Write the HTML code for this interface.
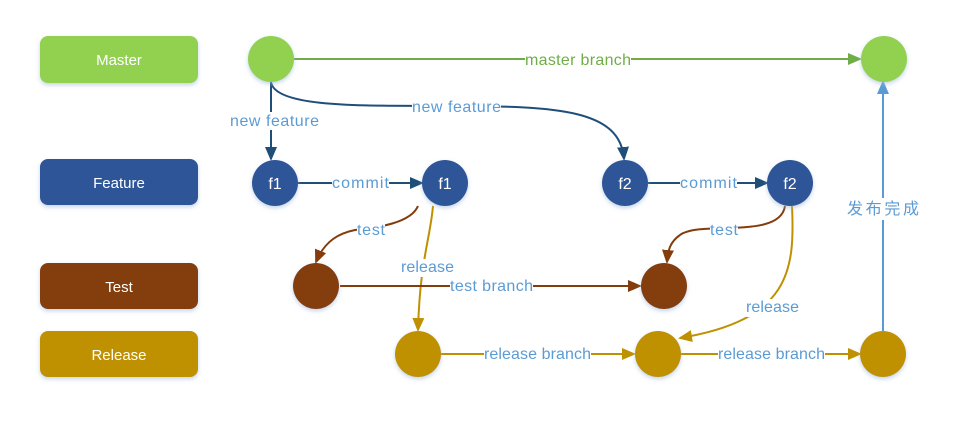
<!DOCTYPE html>
<html><head><meta charset="utf-8"><style>
body{margin:0;background:#fff;}
svg{display:block;font-family:"Liberation Sans","Noto Sans CJK SC",sans-serif;}
</style></head><body>
<svg width="954" height="434" viewBox="0 0 954 434">
<defs>
<filter id="sh" x="-30%" y="-30%" width="160%" height="160%"><feDropShadow dx="0" dy="2" stdDeviation="2" flood-color="#9bb7d8" flood-opacity="0.6"/></filter>
<marker id="ab" markerWidth="14" markerHeight="14" refX="12" refY="7" orient="auto" markerUnits="userSpaceOnUse"><path d="M0,1 L14,7 L0,13z" fill="#1f4e79"/></marker>
<marker id="ag" markerWidth="14" markerHeight="14" refX="12" refY="7" orient="auto" markerUnits="userSpaceOnUse"><path d="M0,1 L14,7 L0,13z" fill="#70ad47"/></marker>
<marker id="abr" markerWidth="14" markerHeight="14" refX="12" refY="7" orient="auto" markerUnits="userSpaceOnUse"><path d="M0,1 L14,7 L0,13z" fill="#843c0c"/></marker>
<marker id="ay" markerWidth="14" markerHeight="14" refX="12" refY="7" orient="auto" markerUnits="userSpaceOnUse"><path d="M0,1 L14,7 L0,13z" fill="#bf9000"/></marker>
<marker id="al" markerWidth="14" markerHeight="14" refX="12" refY="7" orient="auto" markerUnits="userSpaceOnUse"><path d="M0,1 L14,7 L0,13z" fill="#5b9bd5"/></marker>
</defs>
<g filter="url(#sh)">
<rect x="40" y="36" width="158" height="47" rx="8" fill="#92d050"/>
<rect x="40" y="159" width="158" height="46" rx="8" fill="#2f5597"/>
<rect x="40" y="263" width="158" height="46" rx="8" fill="#843c0c"/>
<rect x="40" y="331" width="158" height="46" rx="8" fill="#bf9000"/>
</g>
<g fill="#fff" font-size="15" text-anchor="middle">
<text x="119" y="65">Master</text><text x="119" y="188">Feature</text>
<text x="119" y="292">Test</text><text x="119" y="360">Release</text>
</g>
<g fill="none" stroke-width="2">
<path d="M294,59 L860,59" stroke="#70ad47" marker-end="url(#ag)"/>
<path d="M271,82 L271,159" stroke="#1f4e79" marker-end="url(#ab)"/>
<path d="M271,82 C275,110 380,105 450,106 C560,106 620,110 624,159" stroke="#1f4e79" marker-end="url(#ab)"/>
<path d="M298,183 L422,183" stroke="#1f4e79" marker-end="url(#ab)"/>
<path d="M648,183 L767,183" stroke="#1f4e79" marker-end="url(#ab)"/>
<path d="M418,206 C410,225 370,228 355,230 C340,233 325,240 316,262" stroke="#843c0c" marker-end="url(#abr)"/>
<path d="M433,206 C430,240 420,260 418,330" stroke="#bf9000" marker-end="url(#ay)"/>
<path d="M340,286 L640,286" stroke="#843c0c" marker-end="url(#abr)"/>
<path d="M785,206 C780,240 700,220 680,235 C670,242 668,250 667,262" stroke="#843c0c" marker-end="url(#abr)"/>
<path d="M792,206 C795,270 790,320 680,338" stroke="#bf9000" marker-end="url(#ay)"/>
<path d="M441,354 L634,354" stroke="#bf9000" marker-end="url(#ay)"/>
<path d="M681,354 L860,354" stroke="#bf9000" marker-end="url(#ay)"/>
<path d="M883,331 L883,82" stroke="#5b9bd5" marker-end="url(#al)"/>
</g>
<g filter="url(#sh)">
<circle cx="271" cy="59" r="23" fill="#92d050"/>
<circle cx="884" cy="59" r="23" fill="#92d050"/>
<circle cx="275" cy="183" r="23" fill="#2f5597"/>
<circle cx="445" cy="183" r="23" fill="#2f5597"/>
<circle cx="625" cy="183" r="23" fill="#2f5597"/>
<circle cx="790" cy="183" r="23" fill="#2f5597"/>
<circle cx="316" cy="286" r="23" fill="#843c0c"/>
<circle cx="664" cy="286" r="23" fill="#843c0c"/>
<circle cx="418" cy="354" r="23" fill="#bf9000"/>
<circle cx="658" cy="354" r="23" fill="#bf9000"/>
<circle cx="883" cy="354" r="23" fill="#bf9000"/>
</g>
<g fill="#fff" font-size="16" text-anchor="middle">
<text x="275" y="189">f1</text><text x="445" y="189">f1</text>
<text x="625" y="189">f2</text><text x="790" y="189">f2</text>
</g>
<g font-size="16" fill="#5b9bd5">
<rect x="525" y="50" width="106" height="18" fill="#fff"/>
<text x="525" y="65" textLength="106" fill="#70ad47">master branch</text>
<rect x="230" y="112" width="89" height="18" fill="#fff"/>
<text x="230" y="126" textLength="89">new feature</text>
<rect x="412" y="98" width="89" height="18" fill="#fff"/>
<text x="412" y="112" textLength="89">new feature</text>
<rect x="332" y="174" width="57" height="18" fill="#fff"/>
<text x="332" y="188" textLength="57">commit</text>
<rect x="680" y="174" width="57" height="18" fill="#fff"/>
<text x="680" y="188" textLength="57">commit</text>
<rect x="357" y="222" width="28" height="17" fill="#fff"/>
<text x="357" y="235" textLength="28">test</text>
<rect x="710" y="222" width="28" height="17" fill="#fff"/>
<text x="710" y="235" textLength="28">test</text>
<rect x="401" y="259" width="53" height="18" fill="#fff"/>
<text x="401" y="272" textLength="53">release</text>
<rect x="450" y="277" width="83" height="18" fill="#fff"/>
<text x="450" y="291" textLength="83">test branch</text>
<rect x="746" y="299" width="53" height="18" fill="#fff"/>
<text x="746" y="312" textLength="53">release</text>
<rect x="484" y="345" width="107" height="18" fill="#fff"/>
<text x="484" y="359" textLength="107">release branch</text>
<rect x="718" y="345" width="107" height="18" fill="#fff"/>
<text x="718" y="359" textLength="107">release branch</text>
<rect x="847" y="198" width="72" height="22" fill="#fff"/>
<text x="847" y="214" textLength="72">发布完成</text>
</g>
</svg>
</body></html>
